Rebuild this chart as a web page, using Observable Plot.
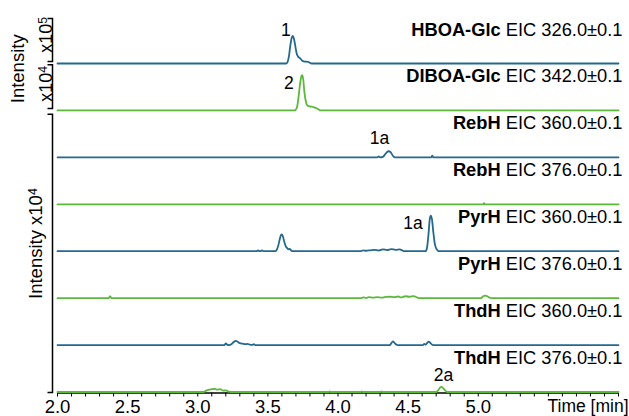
<!DOCTYPE html>
<html>
<head>
<meta charset="utf-8">
<script src="https://cdn.jsdelivr.net/npm/d3@7"></script>
<script src="https://cdn.jsdelivr.net/npm/@observablehq/plot@0.6"></script>
<style>
  html, body { margin: 0; padding: 0; background: #fff; }
  #chart { width: 629px; height: 416px; overflow: hidden; }
</style>
</head>
<body>
<div id="chart"></div>
<script>
const BLUE = "#24688e";
const GREEN = "#5cb83a";

// Extracted-ion chromatograms, listed top to bottom
const traceNames = ["HBOA-Glc", "DIBOA-Glc", "RebH", "RebH", "PyrH", "PyrH", "ThdH", "ThdH"];
const traceEIC = ["EIC 326.0±0.1", "EIC 342.0±0.1", "EIC 360.0±0.1", "EIC 376.0±0.1",
                  "EIC 360.0±0.1", "EIC 376.0±0.1", "EIC 360.0±0.1", "EIC 376.0±0.1"];
const traceColors = [BLUE, GREEN, BLUE, GREEN, BLUE, GREEN, BLUE, GREEN];
const traceOffsets = [7, 6, 5, 4, 3, 2, 1, 0];

// [retention time (min), intensity] — intensity measured in trace-row units
const hboaGlc326 = [[2.0,0],[3.63,0],[3.64,0.03],[3.65,0.15],[3.66,0.38],[3.67,0.55],[3.677,0.59],[3.685,0.54],
  [3.695,0.38],[3.705,0.22],[3.715,0.15],[3.73,0.11],[3.745,0.06],[3.765,0.04],[3.785,0.035],[3.80,0.015],[3.81,0],[6.0,0]];
const diboaGlc342 = [[2.0,0],[3.69,0],[3.70,0.02],[3.71,0.1],[3.72,0.32],[3.73,0.58],[3.74,0.74],[3.745,0.75],
  [3.752,0.66],[3.76,0.4],[3.77,0.2],[3.78,0.11],[3.79,0.09],[3.81,0.08],[3.83,0.065],[3.85,0.04],[3.865,0.015],[3.875,0],[6.0,0]];
const rebH360 = [[2.0,0],[4.28,0],[4.29,0.02],[4.30,0],[4.32,0.01],[4.335,0.06],[4.35,0.115],[4.362,0.13],
  [4.375,0.11],[4.39,0.04],[4.40,0.01],[4.41,0],[4.665,0],[4.672,0.035],[4.68,0],[6.0,0]];
const rebH376 = [[2.0,0],[5.035,0],[5.042,0.025],[5.05,0],[6.0,0]];
const pyrH360 = [[2.0,0],[3.42,0],[3.43,0.02],[3.44,0],[3.46,0.015],[3.47,0],[3.555,0],[3.565,0.04],[3.575,0.13],
  [3.585,0.26],[3.597,0.36],[3.607,0.32],[3.617,0.2],[3.627,0.11],[3.637,0.07],[3.647,0.04],[3.655,0.05],[3.665,0.02],
  [3.675,0],[4.16,0],[4.18,0.02],[4.20,0.01],[4.23,0.02],[4.26,0.03],[4.29,0.015],[4.32,0.04],[4.35,0.025],[4.38,0.045],
  [4.41,0.03],[4.44,0.04],[4.46,0.015],[4.47,0],[4.625,0],[4.635,0.08],[4.645,0.35],[4.655,0.7],[4.662,0.76],
  [4.67,0.68],[4.68,0.4],[4.69,0.16],[4.70,0.06],[4.71,0.02],[4.72,0],[6.0,0]];
const pyrH376 = [[2.0,0],[2.365,0],[2.375,0.045],[2.385,0],[4.16,0],[4.18,0.015],[4.20,0.005],[4.22,0.02],[4.25,0.01],
  [4.28,0.02],[4.31,0.01],[4.34,0.025],[4.37,0.03],[4.40,0.02],[4.43,0.035],[4.45,0.015],[4.48,0.04],[4.51,0.03],
  [4.54,0.045],[4.56,0.02],[4.575,0],[5.02,0],[5.035,0.04],[5.05,0.055],[5.065,0.04],[5.08,0.01],[5.09,0],[6.0,0]];
const thdH360 = [[2.0,0],[3.19,0],[3.20,0.035],[3.21,0.01],[3.225,0],[3.24,0.02],[3.255,0.06],[3.27,0.09],[3.285,0.07],
  [3.30,0.04],[3.32,0.03],[3.34,0.02],[3.355,0.025],[3.37,0.01],[3.39,0.005],[3.40,0.02],[3.41,0],[4.37,0],[4.38,0.04],
  [4.392,0.08],[4.405,0.04],[4.415,0.01],[4.425,0],[4.605,0],[4.615,0.025],[4.625,0.01],[4.635,0.04],[4.647,0.075],
  [4.66,0.04],[4.67,0.01],[4.68,0],[6.0,0]];
const thdH376 = [[2.0,0],[3.04,0],[3.06,0.03],[3.08,0.05],[3.10,0.06],[3.12,0.07],[3.14,0.05],[3.16,0.06],[3.18,0.03],
  [3.20,0.035],[3.22,0.01],[3.235,0],[3.93,0],[3.94,0.015],[3.95,0],[4.16,0],[4.17,0.015],[4.18,0],[4.30,0],[4.31,0.015],
  [4.32,0],[4.70,0],[4.715,0.04],[4.73,0.1],[4.738,0.11],[4.75,0.08],[4.765,0.03],[4.78,0],[6.0,0]];
const traceSeries = [hboaGlc326, diboaGlc342, rebH360, rebH376, pyrH360, pyrH376, thdH360, thdH376];

// Peak annotations: trace index, time and height above that trace's baseline
const peakLabels = [
  {trace: 0, time: 3.629, height: 0.70, label: "1"},
  {trace: 1, time: 3.650, height: 0.585, label: "2"},
  {trace: 2, time: 4.296, height: 0.40, label: "1a"},
  {trace: 4, time: 4.535, height: 0.60, label: "1a"},
  {trace: 7, time: 4.752, height: 0.35, label: "2a"}
];

// Intensity axis brackets (row units) and their titles
const yDomain = [-0.021, 8.342];
const axisGroups = [{from: 7.03, to: 7.95}, {from: 6.03, to: 6.96}, {from: yDomain[0], to: 5.91}];
const outerTitles = [{y: 6.887, text: "Intensity"}];
const innerTitles = [{y: 7.61, text: "x10^5"}, {y: 6.567, text: "x10^4"}];
const mainTitles = [{y: 3.164, text: "Intensity x10^4"}];

const xDomain = [2, 6];
const xMajorTicks = [2.0, 2.5, 3.0, 3.5, 4.0, 4.5, 5.0];
const xMinorTicks = d3.range(20, 61).map(d => d / 10);
const xTitle = ["Time [min]"];

const traceRows = traceNames.map((name, i) => ({
  trace: i, text: name + " " + traceEIC[i], y: traceOffsets[i] + 0.72
}));

function brackets(index, scales, values, dimensions) {
  const g = d3.create("svg:g")
    .attr("fill", "none").attr("stroke", "black").attr("stroke-width", 1.5);
  const x0 = scales.x(xDomain[0]) - 4.5;
  for (const grp of axisGroups) {
    const y1 = scales.y(grp.to), y2 = scales.y(grp.from);
    g.append("path").attr("d", `M${x0 - 5},${y1}H${x0}V${y2}H${x0 - 5}`);
  }
  return g.node();
}

const svg = Plot.plot({
  width: 629,
  height: 416,
  marginLeft: 57,
  marginRight: 11,
  marginTop: 0,
  marginBottom: 23.5,
  style: {
    fontFamily: "'Liberation Sans', Arial, sans-serif",
    fontSize: "18.5px",
    background: "white",
    color: "black",
    overflow: "visible"
  },
  x: {
    domain: xDomain,
    ticks: xMinorTicks,
    tickFormat: d => xMajorTicks.some(m => Math.abs(m - d) < 1e-9) ? d.toFixed(1) : "",
    tickSize: 4,
    tickPadding: 3,
    label: null
  },
  y: {domain: yDomain, axis: null},
  marks: [
    Plot.ruleY([yDomain[0]], {stroke: "black", strokeWidth: 1.6}),
    ...traceSeries.map((pts, i) => Plot.line(pts, {
      x: d => d[0],
      y: d => traceOffsets[i] + d[1],
      stroke: traceColors[i],
      strokeWidth: 1.8,
      curve: "monotone-x"
    })),
    Plot.text(traceRows, {
      x: xDomain[1], y: "y", text: "text",
      textAnchor: "end", dx: 4, fontSize: 18.3, fill: "black"
    }),
    Plot.text(peakLabels, {
      x: "time", y: d => traceOffsets[d.trace] + d.height, text: "label",
      fontSize: 17.5, fill: "black"
    }),
    Plot.text(xTitle, {
      x: xDomain[1], y: yDomain[0], text: d => d, textAnchor: "end", lineAnchor: "top",
      dx: 10, dy: 7, fontSize: 17.5, fill: "black"
    }),
    Plot.text(outerTitles, {x: xDomain[0], y: "y", text: "text", rotate: -90, dx: -39, fontSize: 18.5, fill: "black"}),
    Plot.text(innerTitles, {x: xDomain[0], y: "y", text: "text", rotate: -90, dx: -11, fontSize: 18, fill: "black"}),
    Plot.text(mainTitles, {x: xDomain[0], y: "y", text: "text", rotate: -90, dx: -21, fontSize: 18.5, fill: "black"}),
    brackets
  ]
});

// Bold compound names and superscript exponents
d3.select(svg).selectAll("text").each(function () {
  const s = this.textContent;
  const el = d3.select(this);
  if (s.includes(" EIC ")) {
    const i = s.indexOf(" ");
    el.text(null);
    el.append("tspan").attr("font-weight", "bold").text(s.slice(0, i));
    el.append("tspan").text(s.slice(i));
  } else if (s.includes("^")) {
    const [base, exp] = s.split("^");
    el.text(null);
    el.append("tspan").text(base);
    el.append("tspan").attr("dy", "-0.45em").attr("font-size", "0.68em").text(exp);
  }
});

document.getElementById("chart").appendChild(svg);
</script>
</body>
</html>
